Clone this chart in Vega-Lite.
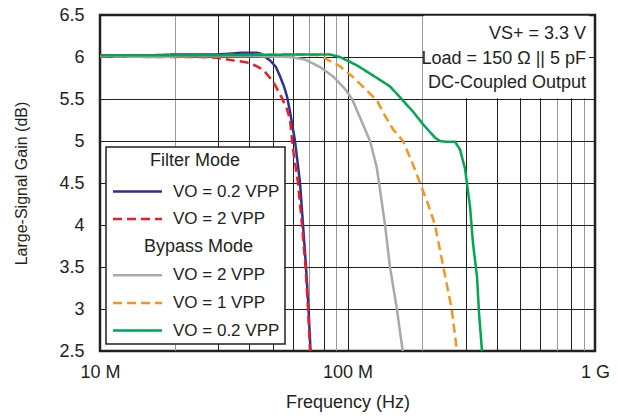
{
  "$schema": "https://vega.github.io/schema/vega-lite/v6.json",
  "width": 495,
  "height": 336,
  "autosize": {"type": "none"},
  "padding": {"left": 100, "top": 15, "right": 23, "bottom": 66},
  "background": "white",
  "config": {
    "font": "Liberation Sans",
    "view": {"stroke": "#231f20", "strokeWidth": 2.5},
    "axis": {
      "labelColor": "#231f20",
      "titleColor": "#231f20",
      "labelFont": "Liberation Sans",
      "titleFont": "Liberation Sans",
      "titleFontWeight": "normal",
      "domain": false,
      "ticks": false,
      "tickSize": 0,
      "grid": true,
      "gridOpacity": 1,
      "gridWidth": 1
    }
  },
  "datasets": {
    "curves": [
      {"series": "Filter Mode: VO = 0.2 VPP", "f": 10000000, "gain": 6.02},
      {"series": "Filter Mode: VO = 0.2 VPP", "f": 12040000, "gain": 6.02},
      {"series": "Filter Mode: VO = 0.2 VPP", "f": 15920000, "gain": 6.02},
      {"series": "Filter Mode: VO = 0.2 VPP", "f": 20090000, "gain": 6.03},
      {"series": "Filter Mode: VO = 0.2 VPP", "f": 25360000, "gain": 6.03},
      {"series": "Filter Mode: VO = 0.2 VPP", "f": 29700000, "gain": 6.03},
      {"series": "Filter Mode: VO = 0.2 VPP", "f": 33520000, "gain": 6.04},
      {"series": "Filter Mode: VO = 0.2 VPP", "f": 36790000, "gain": 6.05},
      {"series": "Filter Mode: VO = 0.2 VPP", "f": 40370000, "gain": 6.05},
      {"series": "Filter Mode: VO = 0.2 VPP", "f": 43090000, "gain": 6.05},
      {"series": "Filter Mode: VO = 0.2 VPP", "f": 44730000, "gain": 6.04},
      {"series": "Filter Mode: VO = 0.2 VPP", "f": 46420000, "gain": 6.0},
      {"series": "Filter Mode: VO = 0.2 VPP", "f": 48630000, "gain": 5.96},
      {"series": "Filter Mode: VO = 0.2 VPP", "f": 51410000, "gain": 5.88},
      {"series": "Filter Mode: VO = 0.2 VPP", "f": 53370000, "gain": 5.77},
      {"series": "Filter Mode: VO = 0.2 VPP", "f": 55390000, "gain": 5.65},
      {"series": "Filter Mode: VO = 0.2 VPP", "f": 56960000, "gain": 5.53},
      {"series": "Filter Mode: VO = 0.2 VPP", "f": 58580000, "gain": 5.35},
      {"series": "Filter Mode: VO = 0.2 VPP", "f": 59680000, "gain": 5.21},
      {"series": "Filter Mode: VO = 0.2 VPP", "f": 61370000, "gain": 5.0},
      {"series": "Filter Mode: VO = 0.2 VPP", "f": 64310000, "gain": 4.5},
      {"series": "Filter Mode: VO = 0.2 VPP", "f": 66120000, "gain": 4.0},
      {"series": "Filter Mode: VO = 0.2 VPP", "f": 67990000, "gain": 3.5},
      {"series": "Filter Mode: VO = 0.2 VPP", "f": 69590000, "gain": 3.0},
      {"series": "Filter Mode: VO = 0.2 VPP", "f": 70900000, "gain": 2.5},

      {"series": "Filter Mode: VO = 2 VPP", "f": 10000000, "gain": 6.01},
      {"series": "Filter Mode: VO = 2 VPP", "f": 15920000, "gain": 6.0},
      {"series": "Filter Mode: VO = 2 VPP", "f": 25360000, "gain": 6.0},
      {"series": "Filter Mode: VO = 2 VPP", "f": 29700000, "gain": 5.99},
      {"series": "Filter Mode: VO = 2 VPP", "f": 34460000, "gain": 5.96},
      {"series": "Filter Mode: VO = 2 VPP", "f": 40370000, "gain": 5.93},
      {"series": "Filter Mode: VO = 2 VPP", "f": 45570000, "gain": 5.85},
      {"series": "Filter Mode: VO = 2 VPP", "f": 50000000, "gain": 5.71},
      {"series": "Filter Mode: VO = 2 VPP", "f": 54370000, "gain": 5.51},
      {"series": "Filter Mode: VO = 2 VPP", "f": 56960000, "gain": 5.38},
      {"series": "Filter Mode: VO = 2 VPP", "f": 58580000, "gain": 5.25},
      {"series": "Filter Mode: VO = 2 VPP", "f": 60240000, "gain": 4.9},
      {"series": "Filter Mode: VO = 2 VPP", "f": 63100000, "gain": 4.5},
      {"series": "Filter Mode: VO = 2 VPP", "f": 65500000, "gain": 4.0},
      {"series": "Filter Mode: VO = 2 VPP", "f": 67670000, "gain": 3.5},
      {"series": "Filter Mode: VO = 2 VPP", "f": 69270000, "gain": 3.0},
      {"series": "Filter Mode: VO = 2 VPP", "f": 70570000, "gain": 2.5},

      {"series": "Bypass Mode: VO = 2 VPP", "f": 10000000, "gain": 6.01},
      {"series": "Bypass Mode: VO = 2 VPP", "f": 15920000, "gain": 6.0},
      {"series": "Bypass Mode: VO = 2 VPP", "f": 25360000, "gain": 6.01},
      {"series": "Bypass Mode: VO = 2 VPP", "f": 40370000, "gain": 6.01},
      {"series": "Bypass Mode: VO = 2 VPP", "f": 58580000, "gain": 6.0},
      {"series": "Bypass Mode: VO = 2 VPP", "f": 67360000, "gain": 5.97},
      {"series": "Bypass Mode: VO = 2 VPP", "f": 77430000, "gain": 5.88},
      {"series": "Bypass Mode: VO = 2 VPP", "f": 87380000, "gain": 5.77},
      {"series": "Bypass Mode: VO = 2 VPP", "f": 97700000, "gain": 5.62},
      {"series": "Bypass Mode: VO = 2 VPP", "f": 104300000, "gain": 5.5},
      {"series": "Bypass Mode: VO = 2 VPP", "f": 112300000, "gain": 5.28},
      {"series": "Bypass Mode: VO = 2 VPP", "f": 123300000, "gain": 5.0},
      {"series": "Bypass Mode: VO = 2 VPP", "f": 131200000, "gain": 4.69},
      {"series": "Bypass Mode: VO = 2 VPP", "f": 134100000, "gain": 4.5},
      {"series": "Bypass Mode: VO = 2 VPP", "f": 141800000, "gain": 4.0},
      {"series": "Bypass Mode: VO = 2 VPP", "f": 148500000, "gain": 3.5},
      {"series": "Bypass Mode: VO = 2 VPP", "f": 158100000, "gain": 3.01},
      {"series": "Bypass Mode: VO = 2 VPP", "f": 167100000, "gain": 2.5},

      {"series": "Bypass Mode: VO = 1 VPP", "f": 10000000, "gain": 6.02},
      {"series": "Bypass Mode: VO = 1 VPP", "f": 25360000, "gain": 6.02},
      {"series": "Bypass Mode: VO = 1 VPP", "f": 64310000, "gain": 6.03},
      {"series": "Bypass Mode: VO = 1 VPP", "f": 77430000, "gain": 6.02},
      {"series": "Bypass Mode: VO = 1 VPP", "f": 82650000, "gain": 5.97},
      {"series": "Bypass Mode: VO = 1 VPP", "f": 93260000, "gain": 5.89},
      {"series": "Bypass Mode: VO = 1 VPP", "f": 105300000, "gain": 5.76},
      {"series": "Bypass Mode: VO = 1 VPP", "f": 119900000, "gain": 5.6},
      {"series": "Bypass Mode: VO = 1 VPP", "f": 131600000, "gain": 5.48},
      {"series": "Bypass Mode: VO = 1 VPP", "f": 141800000, "gain": 5.3},
      {"series": "Bypass Mode: VO = 1 VPP", "f": 152700000, "gain": 5.14},
      {"series": "Bypass Mode: VO = 1 VPP", "f": 167600000, "gain": 5.0},
      {"series": "Bypass Mode: VO = 1 VPP", "f": 182200000, "gain": 4.75},
      {"series": "Bypass Mode: VO = 1 VPP", "f": 196300000, "gain": 4.5},
      {"series": "Bypass Mode: VO = 1 VPP", "f": 211500000, "gain": 4.25},
      {"series": "Bypass Mode: VO = 1 VPP", "f": 225700000, "gain": 4.0},
      {"series": "Bypass Mode: VO = 1 VPP", "f": 243900000, "gain": 3.5},
      {"series": "Bypass Mode: VO = 1 VPP", "f": 263600000, "gain": 3.0},
      {"series": "Bypass Mode: VO = 1 VPP", "f": 277000000, "gain": 2.5},

      {"series": "Bypass Mode: VO = 0.2 VPP", "f": 10000000, "gain": 6.02},
      {"series": "Bypass Mode: VO = 0.2 VPP", "f": 25360000, "gain": 6.02},
      {"series": "Bypass Mode: VO = 0.2 VPP", "f": 64310000, "gain": 6.03},
      {"series": "Bypass Mode: VO = 0.2 VPP", "f": 84990000, "gain": 6.03},
      {"series": "Bypass Mode: VO = 0.2 VPP", "f": 93260000, "gain": 6.0},
      {"series": "Bypass Mode: VO = 0.2 VPP", "f": 109200000, "gain": 5.9},
      {"series": "Bypass Mode: VO = 0.2 VPP", "f": 126800000, "gain": 5.78},
      {"series": "Bypass Mode: VO = 0.2 VPP", "f": 148500000, "gain": 5.65},
      {"series": "Bypass Mode: VO = 0.2 VPP", "f": 163000000, "gain": 5.52},
      {"series": "Bypass Mode: VO = 0.2 VPP", "f": 183900000, "gain": 5.35},
      {"series": "Bypass Mode: VO = 0.2 VPP", "f": 201800000, "gain": 5.2},
      {"series": "Bypass Mode: VO = 0.2 VPP", "f": 225700000, "gain": 5.04},
      {"series": "Bypass Mode: VO = 0.2 VPP", "f": 236400000, "gain": 5.0},
      {"series": "Bypass Mode: VO = 0.2 VPP", "f": 252400000, "gain": 4.99},
      {"series": "Bypass Mode: VO = 0.2 VPP", "f": 271900000, "gain": 4.99},
      {"series": "Bypass Mode: VO = 0.2 VPP", "f": 284800000, "gain": 4.9},
      {"series": "Bypass Mode: VO = 0.2 VPP", "f": 298400000, "gain": 4.67},
      {"series": "Bypass Mode: VO = 0.2 VPP", "f": 312600000, "gain": 4.22},
      {"series": "Bypass Mode: VO = 0.2 VPP", "f": 321500000, "gain": 3.78},
      {"series": "Bypass Mode: VO = 0.2 VPP", "f": 333700000, "gain": 3.38},
      {"series": "Bypass Mode: VO = 0.2 VPP", "f": 340000000, "gain": 2.95},
      {"series": "Bypass Mode: VO = 0.2 VPP", "f": 349400000, "gain": 2.5}
    ]
  },
  "layer": [
    {
      "data": {"values": [{}]},
      "mark": {"type": "rect", "color": "white"},
      "encoding": {
        "x": {"datum": 203000000, "type": "quantitative", "scale": {"type": "log", "domain": [10000000, 1000000000]}},
        "x2": {"datum": 946000000},
        "y": {"datum": 5.51, "type": "quantitative", "scale": {"domain": [2.5, 6.5], "zero": false}},
        "y2": {"datum": 6.49}
      }
    },
    {
      "data": {"name": "curves"},
      "mark": {"type": "line", "strokeWidth": 2.5, "clip": true},
      "encoding": {
        "x": {
          "field": "f",
          "type": "quantitative",
          "scale": {"type": "log", "domain": [10000000, 1000000000]},
          "axis": {
            "title": "Frequency (Hz)",
            "grid": true,
            "values": [10000000, 20000000, 30000000, 40000000, 50000000, 60000000, 70000000, 80000000, 90000000, 100000000, 200000000, 300000000, 400000000, 500000000, 600000000, 700000000, 800000000, 900000000, 1000000000],
            "labelExpr": "datum.value == 10000000 ? '10 M' : datum.value == 100000000 ? '100 M' : datum.value == 1000000000 ? '1 G' : ''",
            "labelFontSize": 18,
            "labelPadding": 12,
            "labelFlush": false,
            "labelOverlap": false,
            "titleFontSize": 18,
            "titlePadding": 12,
            "gridColor": {
              "condition": {"test": "indexof([20000000, 70000000, 90000000, 200000000, 700000000, 900000000], datum.value) >= 0", "value": "#999999"},
              "value": "#231f20"
            }
          }
        },
        "y": {
          "field": "gain",
          "type": "quantitative",
          "scale": {"domain": [2.5, 6.5], "zero": false},
          "axis": {
            "title": "Large-Signal Gain (dB)",
            "grid": true,
            "values": [2.5, 3, 3.5, 4, 4.5, 5, 5.5, 6, 6.5],
            "format": ".1~f",
            "labelFontSize": 18,
            "labelPadding": 16,
            "titleFontSize": 16,
            "titlePadding": 29,
            "gridColor": "#231f20"
          }
        },
        "color": {
          "field": "series",
          "type": "nominal",
          "scale": {
            "domain": ["Filter Mode: VO = 0.2 VPP", "Filter Mode: VO = 2 VPP", "Bypass Mode", "Bypass Mode: VO = 2 VPP", "Bypass Mode: VO = 1 VPP", "Bypass Mode: VO = 0.2 VPP"],
            "range": ["#2e3192", "#ed1c24", "#ffffff", "#a7a9ac", "#f7941d", "#00a651"]
          },
          "legend": {
            "title": "Filter Mode",
            "orient": "none",
            "legendX": 6,
            "legendY": 132,
            "titleAnchor": "middle",
            "titleFont": "Liberation Sans",
            "titleFontSize": 18,
            "titleFontWeight": "normal",
            "titleColor": "#231f20",
            "titlePadding": 13,
            "labelFont": "Liberation Sans",
            "labelFontSize": 17,
            "labelColor": "#231f20",
            "labelLimit": 300,
            "labelExpr": "indexof(datum.label, ': ') >= 0 ? split(datum.label, ': ')[1] : datum.label",
            "symbolType": "M-4.9,0H4.9",
            "symbolSize": 100,
            "symbolStrokeWidth": 2.5,
            "symbolOffset": 18,
            "labelOffset": 27,
            "rowPadding": 9.6,
            "padding": 5,
            "fillColor": "white",
            "strokeColor": "#231f20",
            "encode": {
              "legend": {"update": {"strokeWidth": {"value": 1.5}}},
              "symbols": {"update": {"opacity": {"signal": "datum.value === 'Bypass Mode' ? 0 : 1"}}},
              "labels": {"update": {
                "fontSize": {"signal": "datum.value === 'Bypass Mode' ? 18 : 17"},
                "dx": {"signal": "datum.value === 'Bypass Mode' ? -29 : 0"}
              }}
            }
          }
        },
        "strokeDash": {
          "field": "series",
          "type": "nominal",
          "scale": {
            "domain": ["Filter Mode: VO = 0.2 VPP", "Filter Mode: VO = 2 VPP", "Bypass Mode", "Bypass Mode: VO = 2 VPP", "Bypass Mode: VO = 1 VPP", "Bypass Mode: VO = 0.2 VPP"],
            "range": [[1, 0], [9, 5], [1, 0], [1, 0], [9, 5], [1, 0]]
          }
        }
      }
    },
    {
      "data": {"values": [{}]},
      "mark": {"type": "text", "align": "right", "baseline": "alphabetic", "fontSize": 18, "lineHeight": 24.5, "color": "#231f20", "font": "Liberation Sans"},
      "encoding": {
        "x": {"datum": 919700000, "type": "quantitative", "scale": {"type": "log", "domain": [10000000, 1000000000]}},
        "y": {"datum": 6.211, "type": "quantitative", "scale": {"domain": [2.5, 6.5], "zero": false}},
        "text": {"value": ["VS+ = 3.3 V", "Load = 150 Ω || 5 pF", "DC-Coupled Output"]}
      }
    }
  ]
}
